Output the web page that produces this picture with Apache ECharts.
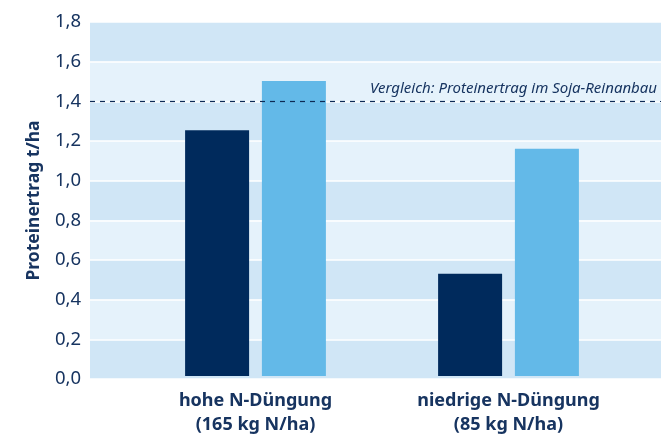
<!DOCTYPE html>
<html><head><meta charset="utf-8">
<script src="https://cdn.jsdelivr.net/npm/echarts@6/dist/echarts.min.js"></script>
<style>html,body{margin:0;padding:0;background:#fff}#c{width:661px;height:437px}</style>
</head><body><div id="c"></div>
<script>
const categories = ['hohe N-Düngung\n(165 kg N/ha)', 'niedrige N-Düngung\n(85 kg N/ha)'];
const seriesDark = [1.25, 0.52];
const seriesLight = [1.50, 1.155];
const referenceValue = 1.4;
const referenceLabel = 'Vergleich: Proteinertrag im Soja-Reinanbau';
const yAxisName = 'Proteinertrag t/ha';

const txt = '#173460';
const font = 'Noto Sans';
const chart = echarts.init(document.getElementById('c'));
chart.setOption({
  animation: false,
  grid: [
    {left: 90, right: 0, top: 22, bottom: 58},
    {left: 129, right: 26, top: 22, bottom: 58}
  ],
  xAxis: [
    {gridIndex: 0, type: 'category', data: ['a'], show: false},
    {gridIndex: 1, type: 'category', data: categories,
     axisLine: {show: false}, axisTick: {show: false},
     axisLabel: {color: txt, fontFamily: font, fontSize: 18, fontWeight: 'bold', lineHeight: 24, margin: 13}}
  ],
  yAxis: [
    {gridIndex: 0, type: 'value', min: 0, max: 1.8, interval: 0.2,
     name: yAxisName, nameLocation: 'middle', nameGap: 47,
     nameTextStyle: {color: txt, fontFamily: font, fontSize: 17.5, fontWeight: 'bold'},
     axisLine: {show: false}, axisTick: {show: false},
     axisLabel: {color: txt, fontFamily: font, fontSize: 18.5, margin: 9,
       formatter: v => v.toFixed(1).replace('.', ',')},
     splitLine: {show: true, lineStyle: {color: '#ffffff', width: 1.5}},
     splitArea: {show: true, areaStyle: {color: ['#d0e6f6', '#e5f2fb']}}
    },
    {gridIndex: 1, type: 'value', min: 0, max: 1.8, interval: 0.2, show: false}
  ],
  series: [
    {type: 'line', xAxisIndex: 0, yAxisIndex: 0, data: [], silent: true,
     markLine: {symbol: 'none', silent: true,
       lineStyle: {color: '#0d2a55', type: [5, 5], width: 1.2},
       label: {position: 'insideEndTop', formatter: referenceLabel, color: txt,
         fontFamily: font, fontSize: 15, fontStyle: 'italic', distance: [4, 5]},
       data: [{yAxis: referenceValue}]}},
    {type: 'bar', xAxisIndex: 1, yAxisIndex: 1, data: seriesDark, barWidth: 64, barGap: '20%',
     itemStyle: {color: '#002a5c'}, z: 3},
    {type: 'bar', xAxisIndex: 1, yAxisIndex: 1, data: seriesLight, barWidth: 64, barGap: '20%',
     itemStyle: {color: '#63b9e8'}, z: 3}
  ]
});
</script></body></html>
